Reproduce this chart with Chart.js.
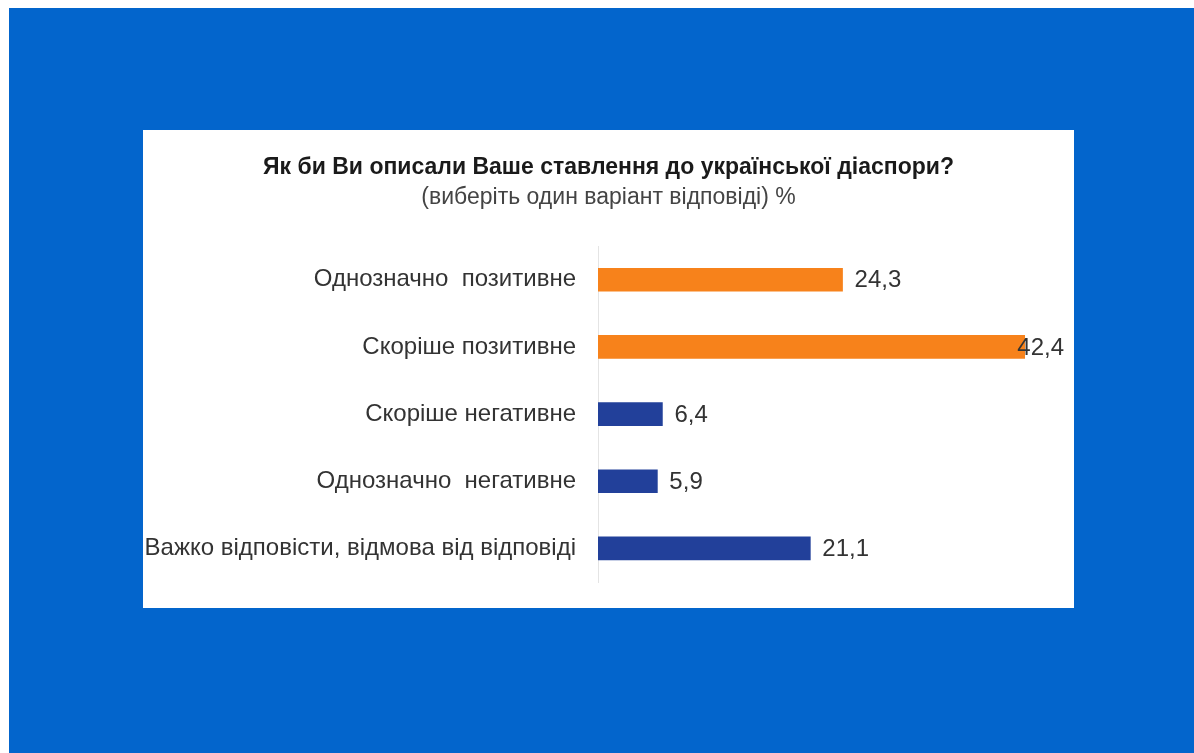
<!DOCTYPE html>
<html>
<head>
<meta charset="utf-8">
<script src="https://cdn.jsdelivr.net/npm/chart.js@4/dist/chart.umd.min.js"></script>
<style>
  html, body { margin: 0; padding: 0; background: #ffffff; }
  #bg {
    position: absolute; left: 9px; top: 8px; width: 1185px; height: 745px;
    background: #0365cc;
  }
  #panel {
    position: absolute; left: 143px; top: 130px; width: 931px; height: 478px;
    background: #ffffff;
  }
  #chart { display: block; }
</style>
</head>
<body>
<div id="bg"></div>
<div id="panel"><canvas id="chart" width="931" height="478"></canvas></div>
<script>
const categories = [
  'Однозначно  позитивне',
  'Скоріше позитивне',
  'Скоріше негативне',
  'Однозначно  негативне',
  'Важко відповісти, відмова від відповіді'
];
const values = [24.3, 42.4, 6.4, 5.9, 21.1];
const barColors = ['#f7821b', '#f7821b', '#22409a', '#22409a', '#22409a'];
const titleText = 'Як би Ви описали Ваше ставлення до української діаспори?';
const subtitleText = '(виберіть один варіант відповіді) %';

const FONT = '"Liberation Sans", Arial, sans-serif';

// writes the value next to the end of each bar, kept inside the canvas
const valueLabels = {
  id: 'valueLabels',
  afterDatasetsDraw(chart) {
    const ctx = chart.ctx;
    const meta = chart.getDatasetMeta(0);
    ctx.save();
    ctx.font = '24px ' + FONT;
    ctx.fillStyle = '#333333';
    ctx.textAlign = 'left';
    ctx.textBaseline = 'middle';
    meta.data.forEach((bar, i) => {
      const txt = values[i].toFixed(1).replace('.', ',');
      const w = ctx.measureText(txt).width;
      const x = Math.min(bar.x + 12, chart.width - 10 - w);
      ctx.fillText(txt, x, bar.y + 1);
    });
    ctx.restore();
  }
};

new Chart(document.getElementById('chart'), {
  type: 'bar',
  data: {
    labels: categories,
    datasets: [{
      data: values,
      backgroundColor: barColors,
      barThickness: 23
    }]
  },
  options: {
    indexAxis: 'y',
    responsive: false,
    animation: false,
    layout: { padding: { left: 0, right: 0, top: 0, bottom: 26 } },
    plugins: {
      legend: { display: false },
      tooltip: { enabled: false },
      title: {
        display: true,
        text: titleText,
        color: '#1a1a1a',
        font: { family: FONT, size: 23, weight: 'bold' },
        padding: { top: 24, bottom: 2 }
      },
      subtitle: {
        display: true,
        text: subtitleText,
        color: '#444444',
        font: { family: FONT, size: 23 },
        padding: { top: 0, bottom: 35 }
      }
    },
    scales: {
      x: { display: false, min: 0, max: 47.3 },
      y: {
        afterFit(scale) {
          scale.width = 455;
          scale.paddingTop = 0;
          scale.paddingBottom = 0;
        },
        grid: { display: false, drawTicks: false },
        border: { display: true, color: '#e4e4e4', width: 1 },
        ticks: { color: '#333333', padding: 22, font: { family: FONT, size: 24 } }
      }
    }
  },
  plugins: [valueLabels]
});
</script>
</body>
</html>
